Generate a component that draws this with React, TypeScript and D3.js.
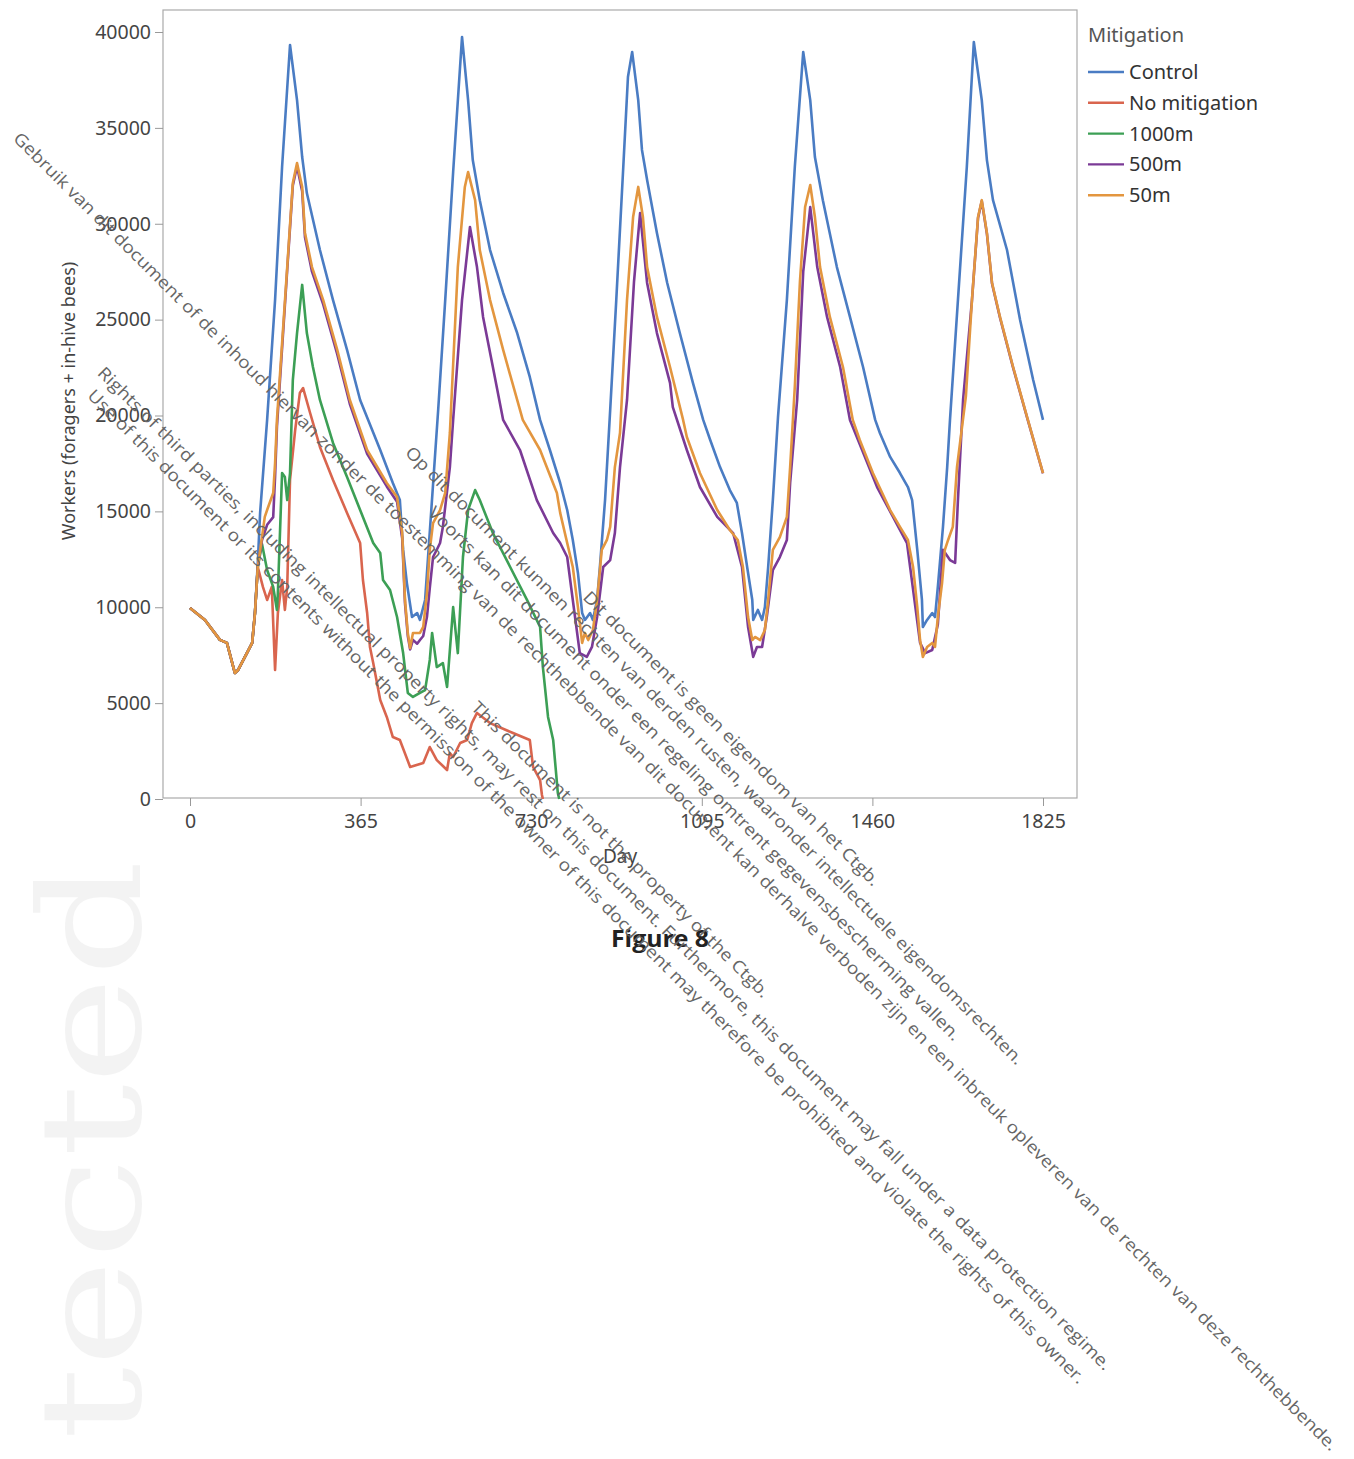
import React, { useEffect, useRef } from 'react'
import * as d3 from 'd3'

const WIDTH = 1354
const HEIGHT = 1459

const seriesNames = ['Control', 'No mitigation', '1000m', '500m', '50m']
const seriesColors = ['#4a7cc3', '#d9654e', '#3c9f55', '#7b3a96', '#e3963f']
const xTicks = [0, 365, 730, 1095, 1460, 1825]
const yTicks = [0, 5000, 10000, 15000, 20000, 25000, 30000, 35000, 40000]

// days 0-139: every colony is the same before exposure starts
const sharedStart = [
    [0, 9960], [32, 9340], [64, 8300], [79, 8140], [96, 6570], [103, 6730],
    [122, 7620], [133, 8140], [139, 9700]
]

const control = [
    [145, 12300], [150, 14920], [165, 19770], [182, 26020], [197, 32960], [214, 39320],
    [229, 36450], [240, 33480], [250, 31600], [278, 28630], [306, 26020], [336, 23420],
    [364, 20810], [407, 18200], [434, 16480], [449, 15590], [456, 12990], [464, 11260],
    [475, 9490], [486, 9700], [492, 9340], [503, 10380], [509, 12500], [531, 20300],
    [546, 26000], [563, 32700], [582, 39740],
    [595, 36450], [605, 33320], [620, 31230], [642, 28630], [670, 26390], [700, 24300],
    [727, 22010], [749, 19770], [770, 18200], [792, 16480], [807, 15070], [819, 13510],
    [830, 11790], [839, 9700], [845, 9340], [856, 9700], [862, 9340], [871, 10380],
    [877, 12100], [888, 15590], [899, 20290], [912, 26020], [927, 32960], [937, 37650],
    [946, 38960],
    [959, 36450], [967, 33850], [978, 32280], [999, 29520], [1021, 26910], [1048, 24300],
    [1076, 21700], [1098, 19770], [1113, 18720], [1134, 17310], [1155, 16110], [1170, 15440],
    [1181, 13870], [1192, 12100], [1203, 10380], [1205, 9340], [1215, 9860], [1224, 9340],
    [1230, 10010], [1237, 12100], [1247, 15590], [1258, 19900], [1277, 26020], [1294, 32960],
    [1312, 38960],
    [1327, 36450], [1337, 33480], [1354, 31230], [1384, 27740], [1412, 25140], [1440, 22530],
    [1466, 19770], [1476, 19090], [1498, 17840], [1519, 17000], [1536, 16270], [1545, 15590],
    [1556, 12990], [1566, 10380], [1568, 8970], [1577, 9340], [1588, 9700], [1594, 9490],
    [1600, 11060], [1611, 14190], [1620, 17310], [1626, 19770], [1643, 26020], [1662, 32960],
    [1677, 39480],
    [1694, 36450], [1705, 33320], [1718, 31230], [1748, 28630], [1776, 24980], [1804, 21850],
    [1825, 19770]
]

const noMitigation = [
    [145, 12100], [156, 11060], [165, 10380], [175, 11060], [182, 6730], [188, 9700],
    [197, 11420], [203, 9860], [208, 11060], [214, 16640], [225, 19240], [235, 21170],
    [242, 21430], [257, 20130], [278, 18360], [306, 16640], [336, 14920], [364, 13350],
    [370, 11420], [379, 9700], [385, 7930], [392, 7090], [407, 5160], [421, 4280],
    [434, 3230], [449, 3080], [471, 1670], [499, 1880], [513, 2710], [528, 2030],
    [550, 1510], [556, 2400], [563, 2190], [578, 2920], [593, 3080], [603, 3960],
    [614, 4490], [642, 3960], [691, 3440], [727, 3080], [734, 1670], [749, 990],
    [753, 210], [755, 0]
]

const m1000 = [
    [145, 12100], [154, 13300], [165, 11940], [178, 11060], [186, 9860], [188, 10740],
    [197, 17000], [203, 16790], [208, 15590], [214, 17000], [220, 21850], [229, 24300],
    [240, 26810], [250, 24300], [263, 22530], [278, 20810], [306, 18570], [336, 16790],
    [364, 15070], [392, 13350], [407, 12830], [413, 11420], [428, 10900], [443, 9490],
    [456, 7610], [466, 5530], [477, 5320], [492, 5530], [503, 5680], [513, 7250],
    [518, 8660], [528, 6880], [541, 7090], [550, 5840], [563, 10010], [573, 7610],
    [584, 12620], [595, 15070], [610, 16110], [620, 15590], [648, 13870], [685, 12100],
    [721, 10380], [749, 8970], [755, 6880], [766, 4280], [777, 3080], [787, 310], [790, 0]
]

const m500 = [
    [145, 12100], [154, 13500], [165, 14300], [178, 14700], [182, 16800], [186, 19400],
    [208, 27600], [220, 32000], [229, 33000], [240, 31700], [246, 29300], [261, 27500],
    [285, 25800], [315, 23200], [342, 20600], [379, 18000], [421, 16300], [443, 15500],
    [454, 13600], [460, 10200], [466, 8500], [471, 7800], [477, 8300], [486, 8100],
    [492, 8290], [499, 8500], [507, 9500], [513, 11000], [520, 12620], [528, 13000],
    [535, 13350], [541, 14190], [556, 17310], [563, 19770], [582, 26020], [599, 29830],
    [614, 27740], [627, 25140], [648, 22530], [670, 19770], [706, 18200], [742, 15590],
    [777, 13870], [792, 13350], [807, 12620], [819, 10380], [834, 7610], [849, 7410],
    [860, 7930], [871, 9490], [884, 12100], [899, 12460], [909, 13870], [920, 17310],
    [935, 20810], [950, 27000], [963, 30560],
    [978, 26910], [999, 24300], [1027, 21700], [1033, 20440], [1063, 18200], [1091, 16270],
    [1128, 14710], [1162, 13870], [1181, 12100], [1194, 8970], [1205, 7410], [1213, 7930],
    [1224, 7930], [1234, 9490], [1247, 11940], [1262, 12620], [1277, 13510], [1284, 16480],
    [1299, 20810], [1312, 27500], [1327, 30870],
    [1342, 27740], [1363, 25140], [1391, 22530], [1412, 19770], [1470, 16270], [1534, 13350],
    [1562, 8140], [1573, 7610], [1588, 7770], [1600, 9100], [1611, 13000], [1626, 12460],
    [1637, 12310], [1643, 15590], [1654, 20810], [1673, 26000], [1686, 30300], [1694, 31180],
    [1705, 29480], [1716, 26870], [1733, 25100], [1761, 22500], [1791, 19890], [1825, 16980]
]

const m50 = [
    [145, 12100], [154, 13660], [160, 14710], [165, 15070], [178, 15960], [182, 17500],
    [186, 19770], [208, 27740], [220, 32130], [229, 33170],
    [240, 31920], [246, 29520], [261, 27740], [285, 26020], [315, 23420], [342, 20810],
    [379, 18200], [421, 16480], [443, 15750], [454, 13870], [460, 10380], [466, 8660],
    [471, 7870], [477, 8660], [492, 8660], [499, 8970], [507, 10740], [513, 12990],
    [520, 14390], [535, 15070], [546, 15960], [556, 19090], [573, 27740], [588, 31920],
    [595, 32700],
    [610, 31230], [620, 28630], [642, 26020], [670, 23420], [700, 20810], [712, 19770],
    [749, 18200], [785, 15960], [792, 14920], [819, 12100], [830, 10010], [839, 8140],
    [845, 8660], [852, 8290], [862, 8810], [871, 10380], [881, 12990], [892, 13510],
    [899, 14190], [909, 17310], [920, 19090], [935, 26020], [948, 30350], [959, 31920],
    [969, 30350], [978, 27740], [999, 25140], [1027, 22530], [1055, 19770], [1063, 18880],
    [1091, 17000], [1128, 15070], [1155, 14030], [1172, 13510], [1183, 12100], [1194, 9490],
    [1203, 8290], [1209, 8450], [1220, 8290], [1230, 8810], [1237, 10380], [1247, 12990],
    [1262, 13660], [1277, 14710], [1284, 17310], [1294, 21500], [1305, 27000], [1316, 30870],
    [1327, 32020],
    [1337, 30350], [1348, 27740], [1369, 25140], [1397, 22530], [1418, 19770], [1433, 18720],
    [1461, 17000], [1498, 15070], [1519, 14190], [1536, 13510], [1547, 12100], [1556, 10010],
    [1562, 8290], [1568, 7410], [1577, 7930], [1588, 8140], [1594, 7930], [1600, 9490],
    [1609, 11260], [1615, 12990], [1622, 13510], [1632, 14190], [1641, 17310], [1660, 21000],
    [1673, 26020], [1686, 30350], [1694, 31230],
    [1705, 29520], [1716, 26910], [1733, 25140], [1761, 22530], [1791, 19920], [1825, 17000]
]

const seriesValues = [control, noMitigation, m1000, m500, m50]

// scanned watermark lines: text, centre, angle, length along the line
const watermarks = [
    ['Gebruik van dit document of de inhoud hiervan zonder de toestemming van de rechthebbende van dit document kan derhalve verboden zijn en een inbreuk opleveren van de rechten van deze rechthebbende.', 676, 791, 44.87, 1860],
    ['Rights of third parties, including intellectual property rights, may rest on this document. Furthermore, this document may fall under a data protection regime.', 605, 868, 44.7, 1418],
    ['Use of this document or its contents without the permission of the owner of this document may therefore be prohibited and violate the rights of this owner.', 587, 886, 44.9, 1400],
    ['Op dit document kunnen rechten van derden rusten, waaronder intellectuele eigendomsrechten.', 715, 755, 45, 866],
    ['Voorts kan dit document onder een regeling omtrent gegevensbescherming vallen.', 695, 773, 45.1, 746],
    ['Dit document is geen eigendom van het Ctgb.', 732, 738, 44.8, 410],
    ['This document is not the property of the Ctgb.', 621, 849, 44.8, 412]
]

const FONT = "'Noto Sans', 'Open Sans', sans-serif"

const create = el => {
    const svg = d3
        .select(el)
        .append('svg')
        .attr('width', WIDTH)
        .attr('height', HEIGHT)
        .style('position', 'absolute')
        .style('left', 0)
        .style('top', 0)
        .style('background', '#fff')

    // faint stamp on the left edge of the scan
    svg.append('text')
        .attr('transform', 'translate(140, 1440) rotate(-90)')
        .attr('font-family', 'DejaVu Serif, serif')
        .attr('font-size', 140)
        .attr('fill', '#000')
        .attr('opacity', 0.045)
        .attr('textLength', 580)
        .attr('lengthAdjust', 'spacingAndGlyphs')
        .text('tected')

    const x = d3.scaleLinear().domain([0, 1825]).range([190, 1043])
    const y = d3.scaleLinear().domain([0, 40000]).range([799, 32])

    // plot frame
    svg.append('rect')
        .attr('x', 163)
        .attr('y', 10)
        .attr('width', 914)
        .attr('height', 788)
        .attr('fill', 'none')
        .attr('stroke', '#aaa')
        .attr('stroke-width', 1.2)

    const yAxis = svg
        .append('g')
        .attr('transform', 'translate(163,0)')
        .call(d3.axisLeft(y).tickValues(yTicks).tickSize(8).tickPadding(4).tickFormat(d3.format('d')))
    const xAxis = svg
        .append('g')
        .attr('transform', 'translate(0,798)')
        .call(d3.axisBottom(x).tickValues(xTicks).tickSize(8).tickPadding(8).tickFormat(d3.format('d')))
    ;[yAxis, xAxis].forEach(axis => {
        axis.select('.domain').remove()
        axis.selectAll('line').attr('stroke', '#999')
        axis.selectAll('text')
            .attr('font-family', FONT)
            .attr('font-size', 19.5)
            .attr('fill', '#444')
    })

    svg.append('text')
        .attr('transform', 'translate(75,401) rotate(-90)')
        .attr('text-anchor', 'middle')
        .attr('font-family', FONT)
        .attr('font-size', 18)
        .attr('fill', '#444')
        .text('Workers (foragers + in-hive bees)')

    svg.append('text')
        .attr('x', 620)
        .attr('y', 863)
        .attr('text-anchor', 'middle')
        .attr('font-family', FONT)
        .attr('font-size', 19)
        .attr('fill', '#444')
        .text('Day')

    // series lines, 50m drawn last so it sits on the shared start
    const line = d3
        .line()
        .x(d => x(d[0]))
        .y(d => y(d[1]))
    seriesValues.forEach((values, i) => {
        svg.append('path')
            .datum(sharedStart.concat(values))
            .attr('d', line)
            .attr('fill', 'none')
            .attr('stroke', seriesColors[i])
            .attr('stroke-width', 2.6)
            .attr('stroke-linejoin', 'round')
    })

    // legend
    const legend = svg.append('g').attr('font-family', FONT)
    legend.append('text')
        .attr('x', 1088)
        .attr('y', 42)
        .attr('font-size', 20)
        .attr('fill', '#555')
        .text('Mitigation')
    seriesNames.forEach((name, i) => {
        const ly = 72 + i * 30.8
        legend.append('line')
            .attr('x1', 1088)
            .attr('x2', 1124)
            .attr('y1', ly)
            .attr('y2', ly)
            .attr('stroke', seriesColors[i])
            .attr('stroke-width', 2.4)
        legend.append('text')
            .attr('x', 1129)
            .attr('y', ly + 7)
            .attr('font-size', 20)
            .attr('fill', '#333')
            .text(name)
    })

    svg.append('text')
        .attr('x', 660)
        .attr('y', 947)
        .attr('text-anchor', 'middle')
        .attr('font-family', "'Open Sans', sans-serif")
        .attr('font-weight', 'bold')
        .attr('font-size', 24)
        .attr('fill', '#222')
        .attr('textLength', 98)
        .attr('lengthAdjust', 'spacingAndGlyphs')
        .text('Figure 8')

    // diagonal watermark text
    watermarks.forEach(([txt, cx, cy, angle, len]) => {
        svg.append('text')
            .attr('transform', `translate(${cx},${cy}) rotate(${angle})`)
            .attr('text-anchor', 'middle')
            .attr('dominant-baseline', 'central')
            .attr('font-family', "'Open Sans', sans-serif")
            .attr('font-size', 17)
            .attr('fill', '#666')
            .attr('textLength', len)
            .attr('lengthAdjust', 'spacingAndGlyphs')
            .text(txt)
    })
}

const destroy = el => {
    d3.select(el).select('svg').remove()
}

export default function App() {
    const ref = useRef(null)
    useEffect(() => {
        create(ref.current)
        return () => destroy(ref.current)
    }, [])
    return <div ref={ref} />
}
